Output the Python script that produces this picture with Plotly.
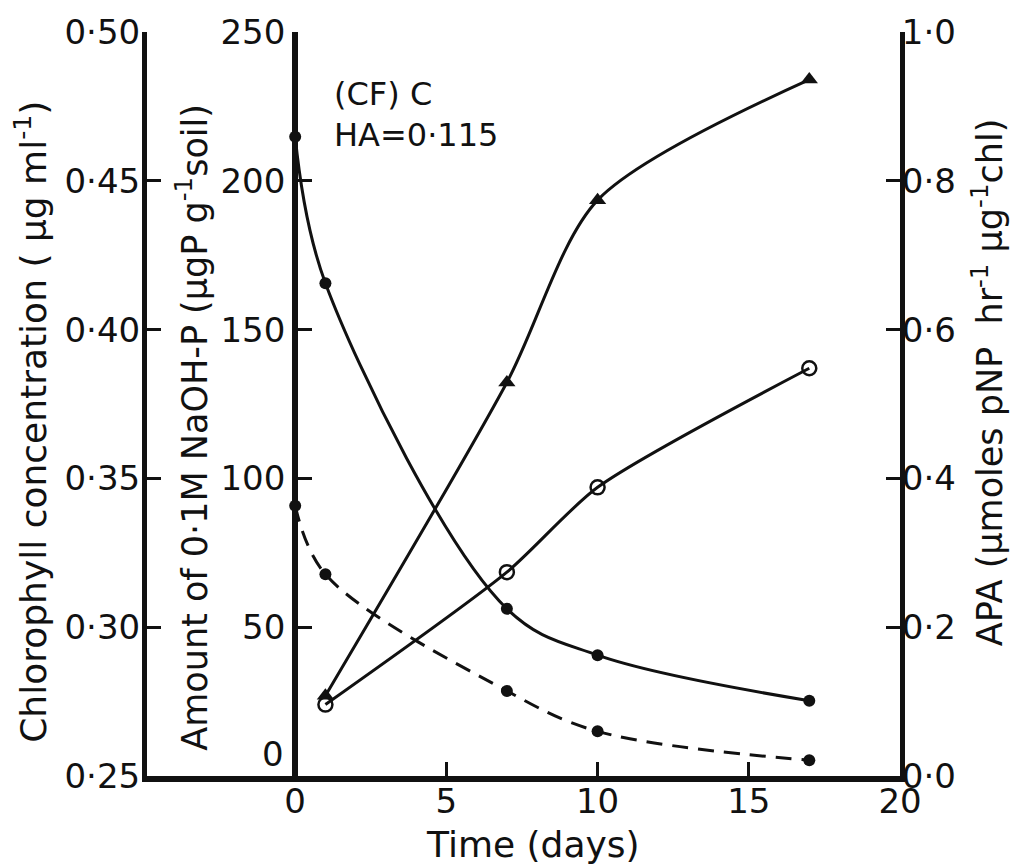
import plotly.graph_objects as go

# ---- data -------------------------------------------------------------
days_all = [0, 1, 7, 10, 17]
days_from1 = [1, 7, 10, 17]

naoh_p_solid = [214.8, 165.6, 56.2, 40.6, 25.3]      # filled circles, solid line
naoh_p_dashed = [90.8, 67.8, 28.6, 15.0, 5.3]        # filled circles, dashed line
apa_triangles = [0.108, 0.529, 0.774, 0.936]         # APA, triangles
chlorophyll_open = [0.274, 0.3185, 0.347, 0.387]     # chlorophyll, open circles

time_ticks = [0, 5, 10, 15, 20]
chl_ticks = [0.25, 0.30, 0.35, 0.40, 0.45, 0.50]
chl_labels = ["0·25", "0·30", "0·35", "0·40", "0·45", "0·50"]
naoh_ticks = [50, 100, 150, 200, 250]
naoh_labels = ["50", "100", "150", "200", "250"]
apa_ticks = [0.0, 0.2, 0.4, 0.6, 0.8, 1.0]
apa_labels = ["0·0", "0·2", "0·4", "0·6", "0·8", "1·0"]

# ---- style ------------------------------------------------------------
INK = "#111111"
FONT = "DejaVu Sans"
W, H = 1024, 868
M_L, M_R, M_T, M_B = 147, 124, 24, 92
X_MIN, X_MAX = -4.9, 20

tick_font = dict(family=FONT, size=34, color=INK)


def px_to_paper_x(px):
    return (px - M_L) / (W - M_L - M_R)


def px_to_paper_y(py):
    return (H - M_B - py) / (H - M_T - M_B)


fig = go.Figure()


def curve(smoothing, **extra):
    return dict(color=INK, width=3, shape="spline", smoothing=smoothing, **extra)


fig.add_trace(go.Scatter(
    x=days_all, y=naoh_p_solid, yaxis="y2", mode="lines+markers",
    line=curve(1.0), marker=dict(symbol="circle", size=12, color=INK),
))
fig.add_trace(go.Scatter(
    x=days_all, y=naoh_p_dashed, yaxis="y2", mode="lines+markers",
    line=curve(1.0, dash="16px,10px"),
    marker=dict(symbol="circle", size=12, color=INK),
))
fig.add_trace(go.Scatter(
    x=days_from1, y=apa_triangles, yaxis="y3", mode="lines+markers",
    line=curve(0.8), marker=dict(symbol="triangle-up", size=15, color=INK),
))
fig.add_trace(go.Scatter(
    x=days_from1, y=chlorophyll_open, yaxis="y", mode="lines+markers",
    line=curve(0.7),
    marker=dict(symbol="circle-open", size=14, color=INK, line=dict(width=2.5, color=INK)),
))

common_axis = dict(
    showgrid=False, zeroline=False, showline=True, linecolor=INK,
    ticks="inside", ticklen=14, tickwidth=3, tickcolor=INK, tickfont=tick_font,
)

fig.update_layout(
    width=W, height=H,
    margin=dict(l=M_L, r=M_R, t=M_T, b=M_B),
    paper_bgcolor="white", plot_bgcolor="white",
    showlegend=False,
    xaxis=dict(
        common_axis, range=[X_MIN, X_MAX], tickvals=time_ticks,
        ticktext=[str(t) for t in time_ticks], linewidth=6, ticklabelstandoff=-10,
    ),
    yaxis=dict(
        common_axis, range=[chl_ticks[0], chl_ticks[-1]], tickvals=chl_ticks,
        ticktext=chl_labels, linewidth=5, side="left", ticklabelstandoff=-5,
    ),
    yaxis2=dict(
        common_axis, range=[0, 250], tickvals=naoh_ticks, ticktext=naoh_labels,
        linewidth=6, overlaying="y", anchor="free", side="left",
        position=(0 - X_MIN) / (X_MAX - X_MIN),
    ),
    yaxis3=dict(
        common_axis, range=[apa_ticks[0], apa_ticks[-1]], tickvals=apa_ticks,
        ticktext=apa_labels, linewidth=5, overlaying="y", anchor="x", side="right",
        ticklabelstandoff=-10,
    ),
)

title_font = dict(family=FONT, size=35, color=INK)

annotations = [
    # zero of the NaOH-P scale, lifted clear of the time axis
    dict(x=0, y=0, xref="x", yref="y2", text="0", showarrow=False,
         xanchor="right", yanchor="middle", xshift=-9, yshift=22, font=tick_font),
    dict(x=px_to_paper_x(31), y=px_to_paper_y(418), xref="paper", yref="paper",
         text="Chlorophyll concentration ( μg ml<sup>-1</sup>)", textangle=-90,
         showarrow=False, xanchor="center", yanchor="middle",
         font=dict(family=FONT, size=36, color=INK)),
    dict(x=px_to_paper_x(192), y=px_to_paper_y(424), xref="paper", yref="paper",
         text="Amount of 0·1M NaOH-P (μgP g<sup>-1</sup>soil)", textangle=-90,
         showarrow=False, xanchor="center", yanchor="middle", font=title_font),
    dict(x=px_to_paper_x(988), y=px_to_paper_y(378), xref="paper", yref="paper",
         text="APA (μmoles pNP  hr<sup>-1</sup> μg<sup>-1</sup>chl)", textangle=-90,
         showarrow=False, xanchor="center", yanchor="middle", font=title_font),
    dict(x=px_to_paper_x(533), y=px_to_paper_y(845), xref="paper", yref="paper",
         text="Time (days)", showarrow=False, xanchor="center", yanchor="middle",
         font=dict(family=FONT, size=36, color=INK)),
    dict(x=px_to_paper_x(332), y=px_to_paper_y(87), xref="paper", yref="paper",
         text="(CF) C", showarrow=False, xanchor="left", yanchor="middle",
         font=dict(family=FONT, size=32, color=INK)),
    dict(x=px_to_paper_x(332), y=px_to_paper_y(128), xref="paper", yref="paper",
         text="HA=0·115", showarrow=False, xanchor="left", yanchor="middle",
         font=dict(family=FONT, size=32, color=INK)),
]
fig.update_layout(annotations=annotations)

fig.write_html("out.html")
